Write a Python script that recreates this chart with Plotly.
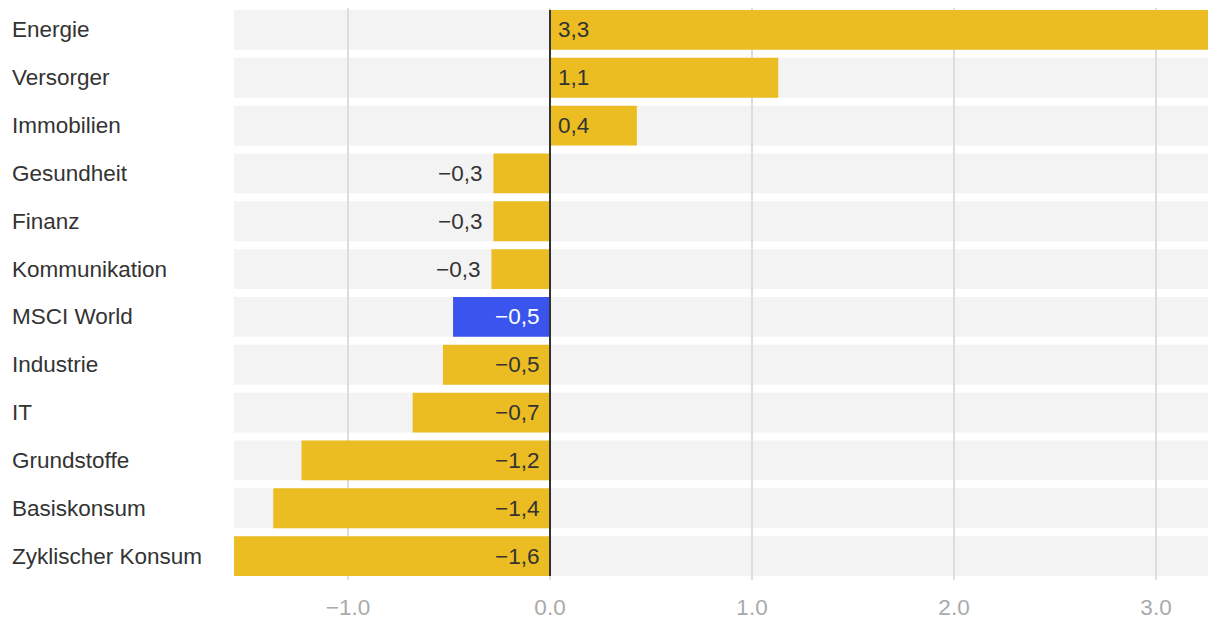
import plotly.graph_objects as go

categories = ["Energie", "Versorger", "Immobilien", "Gesundheit", "Finanz", "Kommunikation",
              "MSCI World", "Industrie", "IT", "Grundstoffe", "Basiskonsum", "Zyklischer Konsum"]
values = [3.3, 1.13, 0.43, -0.28, -0.28, -0.29, -0.48, -0.53, -0.68, -1.23, -1.37, -1.6]
highlight = "MSCI World"
tick_vals = [-1.0, 0.0, 1.0, 2.0, 3.0]

YELLOW = "#EBBD22"
BLUE = "#3A55EE"
FONT = "Liberation Sans, Arial, Helvetica, sans-serif"
FS = 22.5
X_RANGE = [-1.5644, 3.2574]

# figure is placed with an 8px page margin, so geometry is shifted accordingly
W, H = 1212, 612
ML, MR, MT, MB = 226, 12, 0, 38


def fmt(v):
    s = f"{abs(v):.1f}".replace(".", ",")
    return ("\u2212" + s) if round(v, 1) < 0 else s


colors = [BLUE if c == highlight else YELLOW for c in categories]

fig = go.Figure()
fig.add_trace(go.Bar(
    y=categories, x=values, orientation="h",
    marker=dict(color=colors, line=dict(width=0)),
    hoverinfo="skip", showlegend=False,
))

n = len(categories)
half = 0.5 * (1 - 1 / 6)
shapes = []
for i in range(n):
    shapes.append(dict(type="rect", xref="paper", x0=0, x1=1, yref="y",
                       y0=i - half, y1=i + half, fillcolor="#F3F3F3",
                       line=dict(width=0), layer="below"))
shapes.append(dict(type="line", xref="x", x0=0, x1=0, yref="y",
                   y0=-half, y1=n - 1 + half, line=dict(color="#333333", width=2),
                   layer="above"))

annotations = []
plot_w = W - ML - MR
x_left = (2 - ML) / plot_w
for c in categories:
    annotations.append(dict(xref="paper", x=x_left, xanchor="left", yref="y", y=c,
                            text=c, showarrow=False,
                            font=dict(family=FONT, size=FS, color="#333333")))

px_per_unit = plot_w / (X_RANGE[1] - X_RANGE[0])
for c, v in zip(categories, values):
    col = "#FFFFFF" if c == highlight else "#333333"
    if v >= 0:
        annotations.append(dict(x=0, xanchor="left", xshift=6, y=c, text=fmt(v),
                                showarrow=False, font=dict(family=FONT, size=FS, color=col)))
    else:
        width_px = abs(v) * px_per_unit
        if width_px > 70:
            annotations.append(dict(x=0, xanchor="right", xshift=-9, y=c, text=fmt(v),
                                    showarrow=False, font=dict(family=FONT, size=FS, color=col)))
        else:
            annotations.append(dict(x=v, xanchor="right", xshift=-9, y=c, text=fmt(v),
                                    showarrow=False, font=dict(family=FONT, size=FS, color="#333333")))

fig.update_layout(
    width=W, height=H,
    margin=dict(l=ML, r=MR, t=MT, b=MB, pad=0),
    plot_bgcolor="white", paper_bgcolor="white",
    bargap=1 / 6,
    shapes=shapes, annotations=annotations,
    font=dict(family=FONT),
    xaxis=dict(range=X_RANGE, tickvals=tick_vals, tickformat=".1f",
               showgrid=True, gridcolor="#DDDDDD", gridwidth=1.5,
               zeroline=False, showline=False, ticks="",
               tickfont=dict(family=FONT, size=FS, color="#AAAAAA"),
               ticklabelstandoff=11, fixedrange=True),
    yaxis=dict(categoryorder="array", categoryarray=categories,
               range=[n - 0.5, -0.5 + 2 / 48],
               showticklabels=False, showgrid=False, zeroline=False, fixedrange=True),
)

fig.write_html("out.html")
